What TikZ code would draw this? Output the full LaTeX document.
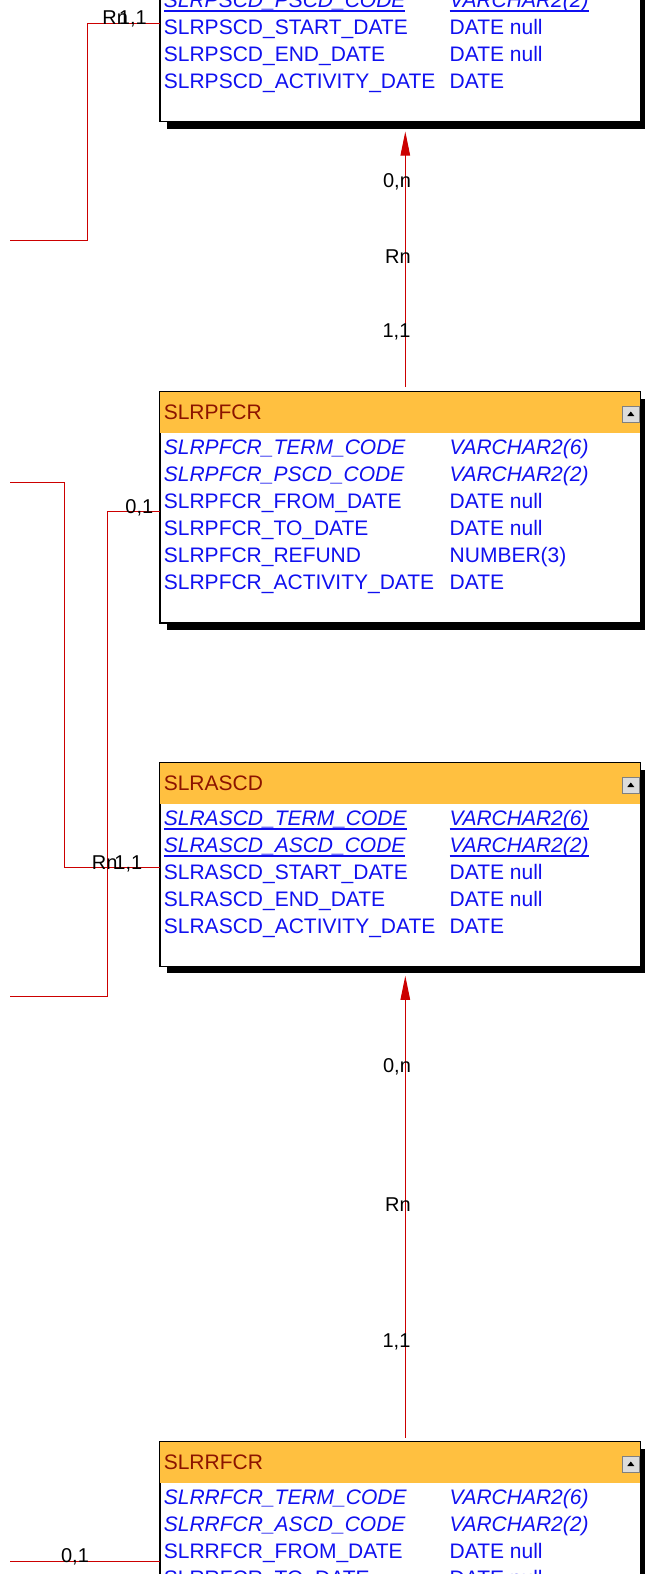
\documentclass[tikz,border=0pt]{standalone}
\usepackage{fontspec}
\setmainfont{Liberation Sans}
\usetikzlibrary{arrows.meta}
\definecolor{hdr}{RGB}{255,192,64}
\definecolor{ttlc}{RGB}{140,20,0}
\definecolor{fldc}{RGB}{16,16,240}
\definecolor{lnkc}{RGB}{204,0,0}
\definecolor{btnc}{RGB}{220,220,220}
\newcommand\ulx[1]{\setbox0\hbox{#1}\rlap{\rule[-4.2pt]{\wd0}{1.4pt}}\box0}
\tikzset{
  tbl/.style={draw=black, line width=0.8pt, fill=white, minimum width=480.4pt, inner sep=0pt, anchor=north west},
  ttl/.style={font=\fontsize{21}{24}\selectfont, text=ttlc, inner sep=0pt, anchor=base west},
  fld/.style={font=\fontsize{21}{24}\selectfont, text=fldc, inner sep=0pt, anchor=base west},
  btn/.style={draw=gray, fill=btnc, line width=0.6pt, minimum width=16.5pt, minimum height=15.5pt, inner sep=0pt},
  link/.style={draw=lnkc, line width=1pt},
  lbl/.style={font=\fontsize{20}{23}\selectfont, text=black, inner sep=0pt},
  tip/.style={-{Triangle[length=24pt,width=9.5pt]}}
}
\newcommand\erbox[4]{% #1 name, #2 top y, #3 height, #4 title
  \fill[black] (167,#2) ++(0,7.5) rectangle ++(481,#3);
  \node[tbl, minimum height=#3pt] (#1) at (159.6,#2) {};
  \fill[hdr] (#1.north west) rectangle ([yshift=-41pt]#1.north east);
  \draw[black, line width=0.8pt] (#1.north west) rectangle (#1.south east);
  \node[ttl] (#1t) at ([xshift=4pt,yshift=-28pt]#1.north west) {#4};
  \node[btn] (#1b) at ([xshift=-10pt,yshift=-22.5pt]#1.north east) {};
  \fill[black] (#1b.center) ++(-3.5,1.8) -- ++(7,0) -- ++(-3.5,-4.5) -- cycle;
}
\newcommand\fr[4]{\node[fld] (#1a) at (163.7,#2) {#3}; \node[fld] (#1b) at (449.5,#2) {#4};}
\begin{document}
\begin{tikzpicture}[x=1pt,y=-1pt]
\useasboundingbox (0,0) rectangle (645,1574);
\clip (0,0) rectangle (645,1574);

% ---------- tables ----------
\erbox{pscd}{-82}{203}{SLRPSCD}
\fr{pa}{7.5}{\ulx{\itshape SLRPSCD\_PSCD\_CODE}}{\ulx{\itshape VARCHAR2(2)}}
\fr{pb}{34.5}{SLRPSCD\_START\_DATE}{DATE null}
\fr{pc}{61.5}{SLRPSCD\_END\_DATE}{DATE null}
\fr{pd}{88.3}{SLRPSCD\_ACTIVITY\_DATE}{DATE}

\erbox{pfcr}{391.7}{230.6}{SLRPFCR}
\fr{fa}{454}{\itshape SLRPFCR\_TERM\_CODE}{\itshape VARCHAR2(6)}
\fr{fb}{481}{\itshape SLRPFCR\_PSCD\_CODE}{\itshape VARCHAR2(2)}
\fr{fc}{508}{SLRPFCR\_FROM\_DATE}{DATE null}
\fr{fd}{535}{SLRPFCR\_TO\_DATE}{DATE null}
\fr{fe}{562}{SLRPFCR\_REFUND}{NUMBER(3)}
\fr{ff}{589}{SLRPFCR\_ACTIVITY\_DATE}{DATE}

\erbox{ascd}{762.7}{203}{SLRASCD}
\fr{aa}{825.3}{\ulx{\itshape SLRASCD\_TERM\_CODE}}{\ulx{\itshape VARCHAR2(6)}}
\fr{ab}{852.3}{\ulx{\itshape SLRASCD\_ASCD\_CODE}}{\ulx{\itshape VARCHAR2(2)}}
\fr{ac}{879}{SLRASCD\_START\_DATE}{DATE null}
\fr{ad}{906}{SLRASCD\_END\_DATE}{DATE null}
\fr{ae}{933}{SLRASCD\_ACTIVITY\_DATE}{DATE}

\erbox{rfcr}{1441.7}{230.6}{SLRRFCR}
\fr{ra}{1504}{\itshape SLRRFCR\_TERM\_CODE}{\itshape VARCHAR2(6)}
\fr{rb}{1531}{\itshape SLRRFCR\_ASCD\_CODE}{\itshape VARCHAR2(2)}
\fr{rc}{1558.5}{SLRRFCR\_FROM\_DATE}{DATE null}
\fr{rd}{1585.5}{SLRRFCR\_TO\_DATE}{DATE null}

% ---------- free ends ----------
\coordinate (e1) at (10,240);
\coordinate (e2) at (10,482.3);
\coordinate (e3) at (10,996);
\coordinate (e4) at (10,1561);

% ---------- connectors ----------
\draw[link] ([yshift=-105.3pt]pscd.north west) -- ++(-72.3,0) |- (e1);
\draw[link] (e2) -- ++(54.6,0) |- ([yshift=-104.6pt]ascd.north west);
\draw[link] ([yshift=-119.3pt]pfcr.north west) -- ++(-52.6,0) |- (e3);
\draw[link] (e4) -- ([yshift=-119.3pt]rfcr.north west);

\draw[link, tip] ([xshift=245.7pt,yshift=4.7pt]pfcr.north west) -- ([xshift=245.7pt,yshift=-9.7pt]pscd.south west);
\draw[link, tip] ([xshift=245.7pt,yshift=4pt]rfcr.north west) -- ([xshift=245.7pt,yshift=-9.3pt]ascd.south west);

% ---------- labels ----------
\node[lbl, anchor=base west] (la) at (102.2,24.5) {Rn};
\node[lbl, anchor=base east] (lb) at (147,24.5) {1,1};
\node[lbl, anchor=base east] (lc) at (153.5,513.5) {0,1};
\node[lbl, anchor=base west] (ld) at (91.7,869.5) {Rn};
\node[lbl, anchor=base east] (le) at (142.5,869.5) {1,1};
\node[lbl] (lf) at (75,1556.7) {0,1};

\node[lbl] (m1) at (397,181.7) {0,n};
\node[lbl] (m2) at (398,256.7) {Rn};
\node[lbl] (m3) at (396.5,331.7) {1,1};
\node[lbl] (m4) at (397,1066.7) {0,n};
\node[lbl] (m5) at (398,1205) {Rn};
\node[lbl] (m6) at (396.5,1341.7) {1,1};
\end{tikzpicture}
\end{document}
